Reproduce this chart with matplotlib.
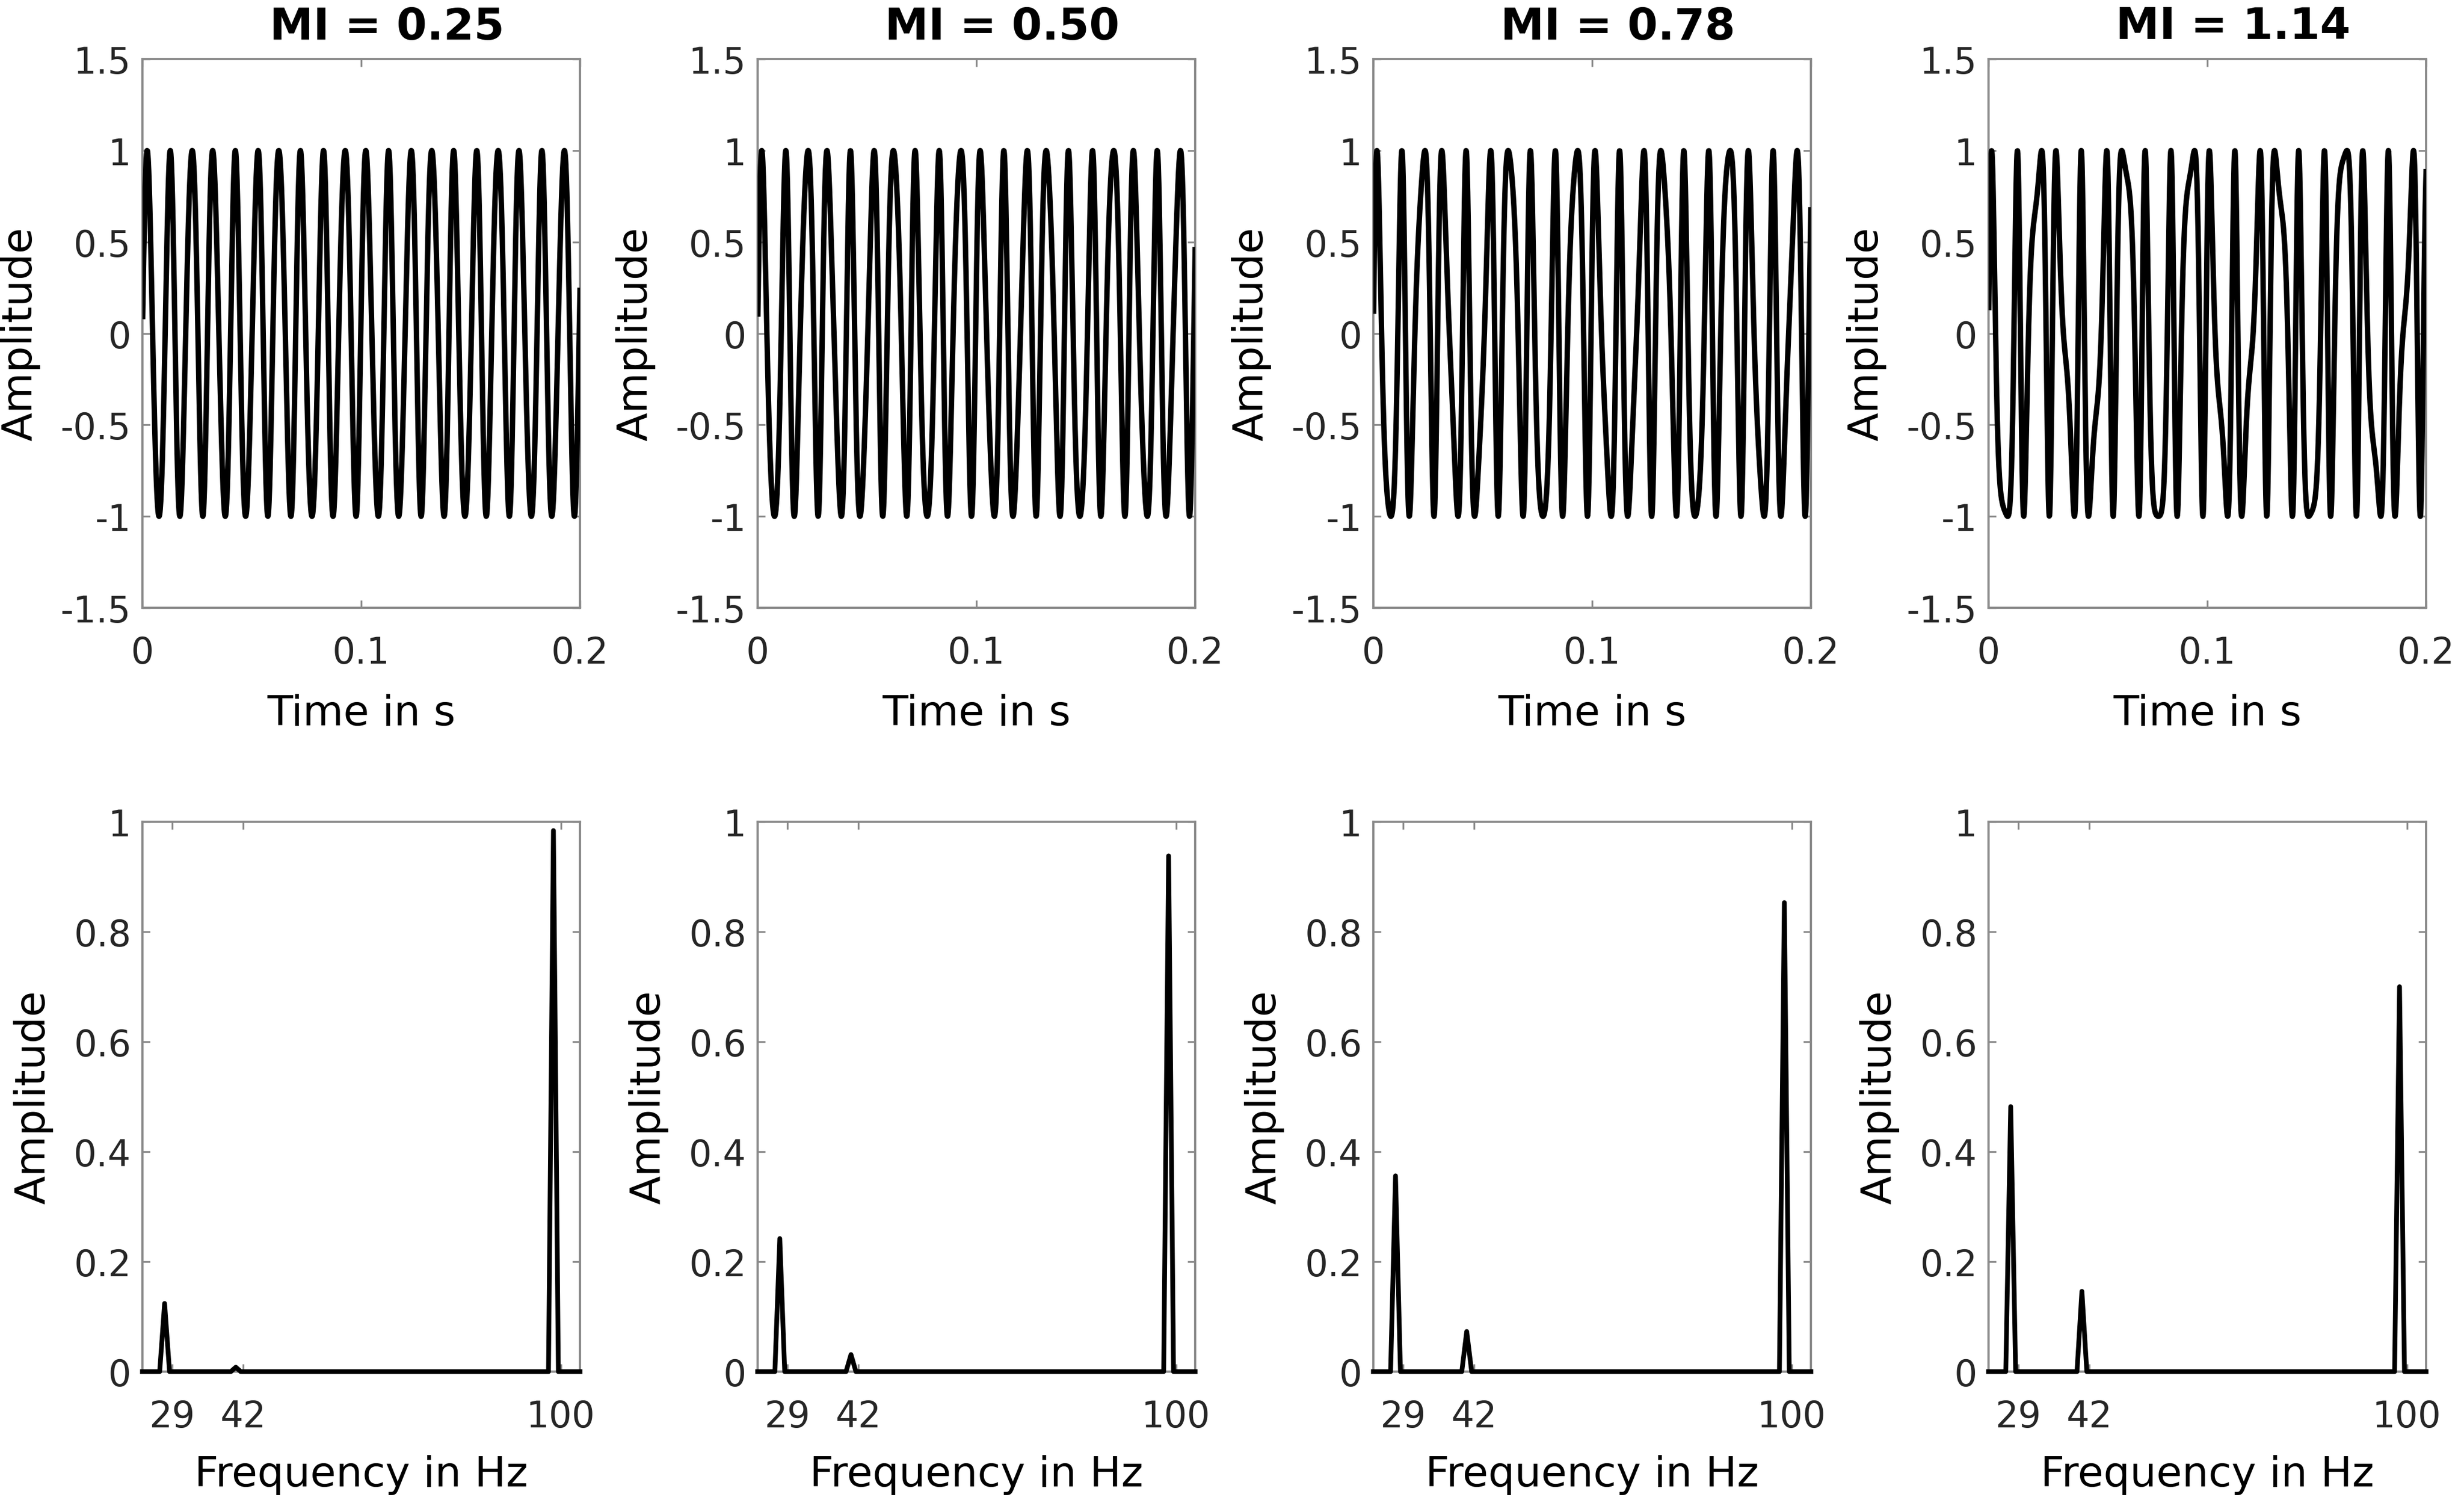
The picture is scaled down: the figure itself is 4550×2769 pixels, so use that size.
import numpy as np
import matplotlib.pyplot as plt

# modulation indices, one column each
mi_values = [0.25, 0.50, 0.78, 1.14]
carrier_hz = 100.0
modulator_hz = 71.0
sample_rate = 8000.0
duration_s = 0.2

# spectral lines
line_labels = [29, 42, 100]
line_positions = [27.65, 40.65, 98.65]  # where the peaks sit on the drawn axis
amp_29 = [0.124, 0.242, 0.356, 0.482]
amp_42 = [0.008, 0.031, 0.073, 0.146]
amp_100 = [0.984, 0.938, 0.853, 0.700]
freq_range = [23.6, 103.5]
bin_hz = 0.9

time_ticks = [0, 0.1, 0.2]
time_tick_labels = ['0', '0.1', '0.2']
amp_ticks = [-1.5, -1, -0.5, 0, 0.5, 1, 1.5]
amp_tick_labels = ['-1.5', '-1', '-0.5', '0', '0.5', '1', '1.5']
spec_ticks = [0, 0.2, 0.4, 0.6, 0.8, 1]
spec_tick_labels = ['0', '0.2', '0.4', '0.6', '0.8', '1']

W, H, DPI = 4550, 2770, 300
SPINE = '#8a8a8a'
TEXT = '#262626'


def spectrum_line(amps):
    """Builds the triangular line of a one-sided amplitude spectrum."""
    xs, ys = [freq_range[0]], [0.0]
    for f, a in zip(line_positions, amps):
        xs += [f - bin_hz, f, f + bin_hz]
        ys += [0.0, a, 0.0]
    xs.append(freq_range[1])
    ys.append(0.0)
    return np.array(xs), np.array(ys)


def style_axes(ax):
    for s in ax.spines.values():
        s.set_color(SPINE)
        s.set_linewidth(1.0)
    ax.tick_params(direction='in', length=3.3, width=0.8, color=SPINE,
                   labelcolor=TEXT, labelsize=16, top=True, right=True)
    ax.tick_params(axis='x', pad=12)
    ax.tick_params(axis='y', pad=5)


fig = plt.figure(figsize=(W / DPI, H / DPI), dpi=DPI)

col_left = [263, 1399, 2536, 3672]
ax_w = 808
top_row = (110, 1123)
bot_row = (1518, 2533)

t = np.arange(1, int(sample_rate * duration_s) + 1) / sample_rate

for i, mi in enumerate(mi_values):
    x0 = col_left[i] / W
    # time signal
    ax = fig.add_axes([x0, 1 - top_row[1] / H, ax_w / W, (top_row[1] - top_row[0]) / H])
    sig = np.sin(2 * np.pi * carrier_hz * t + mi * np.sin(2 * np.pi * modulator_hz * t))
    ax.plot(t, sig, color='black', lw=2.4, zorder=3)
    ax.set_xlim(0, duration_s)
    ax.set_ylim(-1.5, 1.5)
    ax.set_xticks(time_ticks)
    ax.set_xticklabels(time_tick_labels)
    ax.set_yticks(amp_ticks)
    ax.set_yticklabels(amp_tick_labels)
    style_axes(ax)
    ax.set_xlabel('Time in s', fontsize=18.5, labelpad=10)
    ax.set_ylabel('Amplitude', fontsize=18.5, labelpad=9)
    ax.set_title('MI = %.2f' % mi, fontsize=19.4, fontweight='bold', x=0.559, pad=9)

    # spectrum
    ax = fig.add_axes([x0, 1 - bot_row[1] / H, ax_w / W, (bot_row[1] - bot_row[0]) / H])
    fx, fy = spectrum_line([amp_29[i], amp_42[i], amp_100[i]])
    ax.plot(fx, fy, color='black', lw=2.1, clip_on=False, zorder=3)
    ax.set_xlim(freq_range)
    ax.set_ylim(0, 1)
    ax.set_xticks(line_labels)
    ax.set_xticklabels([str(v) for v in line_labels])
    ax.set_yticks(spec_ticks)
    ax.set_yticklabels(spec_tick_labels)
    style_axes(ax)
    ax.set_xlabel('Frequency in Hz', fontsize=18.5, labelpad=9)
    ax.set_ylabel('Amplitude', fontsize=18.5, labelpad=9)

fig.savefig('out.png', dpi=DPI)
